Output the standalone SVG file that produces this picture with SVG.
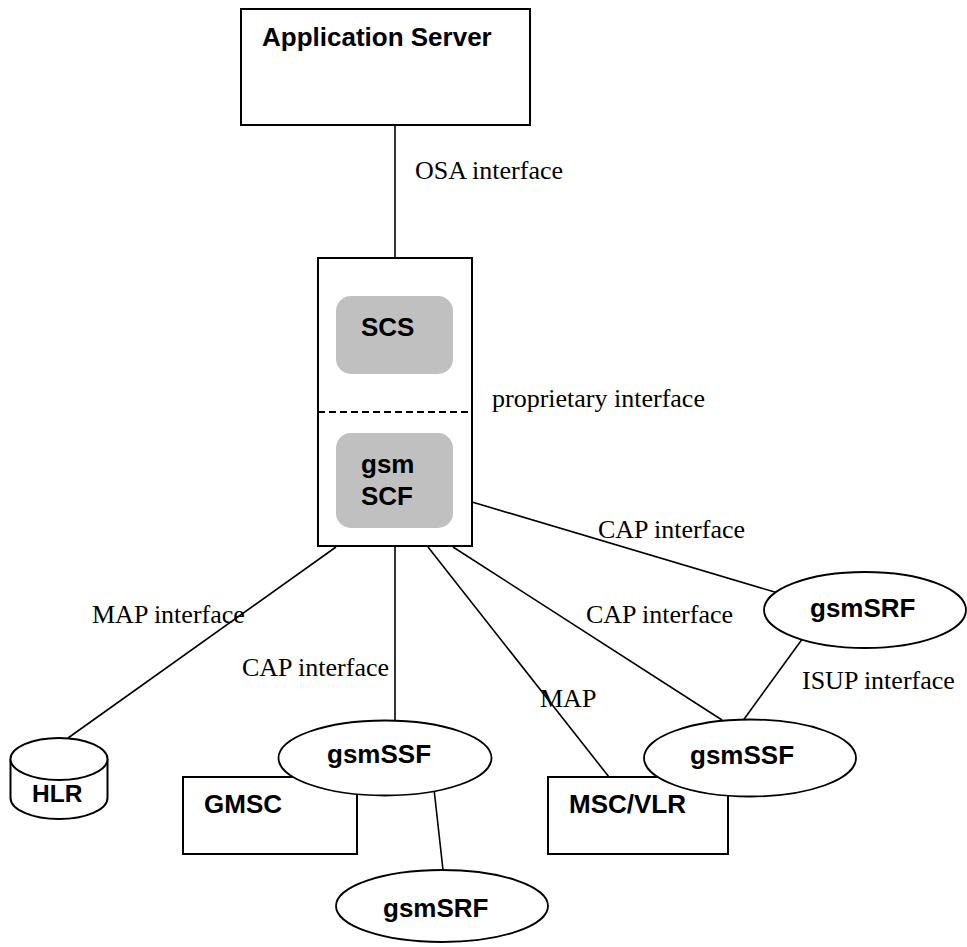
<svg xmlns="http://www.w3.org/2000/svg" width="967" height="947" viewBox="0 0 967 947">
<style>
.box{fill:#fff;stroke:#000;stroke-width:2}
.inner{fill:#c0c0c0;stroke:none}
.ell{fill:#fff;stroke:#000;stroke-width:1.8}
.con{stroke:#000;stroke-width:1.6;fill:none}
.lbl{font-family:"Liberation Sans",Arial,sans-serif;font-weight:bold;font-size:26px;fill:#000}
.ifc{font-family:"Liberation Serif","Times New Roman",serif;font-size:26px;fill:#000}
</style>
<rect width="967" height="947" fill="#fff"/>
<g id="connectors">
  <line class="con" x1="395" y1="125" x2="395" y2="258"/>
  <line class="con" x1="336" y1="547" x2="68" y2="738"/>
  <line class="con" x1="395" y1="547" x2="395" y2="721"/>
  <line class="con" x1="428" y1="547" x2="609" y2="777"/>
  <line class="con" x1="453" y1="547" x2="722" y2="720"/>
  <line class="con" x1="472" y1="502" x2="778" y2="593"/>
  <line class="con" x1="803" y1="638" x2="742" y2="722"/>
  <line class="con" x1="434" y1="789" x2="443" y2="870"/>
</g>
<g id="labels">
  <text class="ifc" x="415" y="179">OSA interface</text>
  <text class="ifc" x="492" y="407">proprietary interface</text>
  <text class="ifc" x="598" y="538">CAP interface</text>
  <text class="ifc" x="586" y="623">CAP interface</text>
  <text class="ifc" x="92" y="623">MAP interface</text>
  <text class="ifc" x="242" y="676">CAP interface</text>
  <text class="ifc" x="540" y="707">MAP</text>
  <text class="ifc" x="802" y="689">ISUP interface</text>
</g>
<g id="application-server">
  <rect class="box" x="241" y="9" width="289" height="116"/>
  <text class="lbl" x="262" y="46">Application Server</text>
</g>
<g id="scs-gsmscf">
  <rect class="box" x="318" y="258" width="154" height="288"/>
  <line x1="318" y1="412" x2="472" y2="412" stroke="#000" stroke-width="2" stroke-dasharray="7,4"/>
  <g id="scs">
    <rect class="inner" x="336" y="296" width="117" height="78" rx="15"/>
    <text class="lbl" x="361" y="336">SCS</text>
  </g>
  <g id="gsmscf">
    <rect class="inner" x="336" y="433" width="117" height="95" rx="15"/>
    <text class="lbl" x="361" y="473">gsm</text>
    <text class="lbl" x="361" y="505">SCF</text>
  </g>
</g>
<g id="hlr">
  <path class="box" d="M10.5,759 L10.5,798 A48.5,21 0 0 0 107.5,798 L107.5,759"/>
  <ellipse class="box" cx="59" cy="759" rx="48.5" ry="21"/>
  <text class="lbl" x="32" y="802" style="font-size:24.5px">HLR</text>
</g>
<g id="gmsc">
  <rect class="box" x="183" y="777" width="174" height="77"/>
  <text class="lbl" x="204" y="813">GMSC</text>
</g>
<g id="gsmssf-left">
  <ellipse class="ell" cx="385" cy="758" rx="106.5" ry="37.5"/>
  <text class="lbl" x="327" y="763">gsmSSF</text>
</g>
<g id="gsmsrf-bottom">
  <ellipse class="ell" cx="442" cy="906" rx="106" ry="36"/>
  <text class="lbl" x="383" y="917">gsmSRF</text>
</g>
<g id="msc-vlr">
  <rect class="box" x="548" y="777" width="180" height="77"/>
  <text class="lbl" x="569" y="813">MSC/VLR</text>
</g>
<g id="gsmssf-right">
  <ellipse class="ell" cx="750" cy="758" rx="106" ry="38.5"/>
  <text class="lbl" x="690" y="764">gsmSSF</text>
</g>
<g id="gsmsrf-right">
  <ellipse class="ell" cx="865" cy="610" rx="101" ry="38"/>
  <text class="lbl" x="810" y="617">gsmSRF</text>
</g>
</svg>
